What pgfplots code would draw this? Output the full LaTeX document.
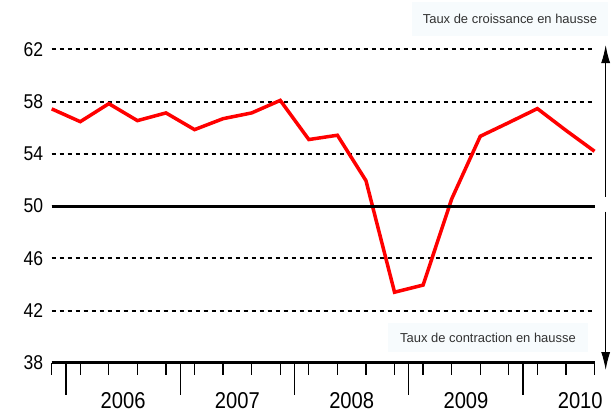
\documentclass[border=0pt]{standalone}
\usepackage{pgfplots}
\pgfplotsset{compat=1.18}
\usetikzlibrary{arrows.meta}
\usepackage{fontspec}
\setmainfont{Liberation Sans}
\newfontfamily\narrow[FakeStretch=0.88]{Liberation Sans}
\definecolor{boxfill}{RGB}{247,251,253}
\definecolor{notegray}{RGB}{50,50,50}

\pgfplotstableread{
x y
0 57.45
1 56.47
2 57.85
3 56.55
4 57.14
5 55.86
6 56.70
7 57.14
8 58.10
9 55.10
10 55.43
11 51.95
12 43.40
13 43.95
14 50.55
15 55.35
16 56.40
17 57.47
18 55.80
19 54.20
}\pmi

\begin{document}
\begin{tikzpicture}
\path[use as bounding box] (-51.7bp,-53.3bp) rectangle (560.3bp,362.7bp);
\begin{axis}[
  x=28.57bp, y=13.05bp,
  xmin=0, xmax=19, ymin=38, ymax=62,
  clip=false,
  separate axis lines,
  axis x line*=bottom, axis y line*=left,
  x axis line style={line width=3.5bp},
  y axis line style={draw=none},
  ytick={38,42,...,62},
  ytick style={draw=none},
  ymajorgrids,
  major grid style={black, line width=2bp, dash pattern=on 4bp off 4bp},
  xtick={2.5,6.5,10.5,14.5,18.5},
  xticklabels={2006,2007,2008,2009,2010},
  minor xtick={0,...,19},
  extra x ticks={0.5,4.5,8.5,12.5,16.5},
  extra x tick labels={},
  extra x tick style={major tick length=32bp, grid=none},
  xtick align=outside,
  major tick length=0pt,
  minor tick length=12bp,
  x tick style={black, line width=1.3bp},
  /pgf/number format/assume math mode=true,
  yticklabel style={font=\narrow\fontsize{20}{20}\selectfont, xshift=-5bp},
  xticklabel style={font=\narrow\fontsize{23}{23}\selectfont, anchor=north, inner sep=0pt, yshift=-30bp},
]
\addplot[red, line width=3.5bp, line join=miter] table[x=x, y=y] {\pmi};
\draw[black, line width=3bp] (axis cs:0,50) -- (axis cs:19,50);
\draw[line width=1bp, -{Latex[length=18bp, width=9bp]}] (axis cs:19.39,50.72) -- (axis cs:19.39,62.34);
\draw[line width=1bp, -{Latex[length=18bp, width=9bp]}] (axis cs:19.39,49.57) -- (axis cs:19.39,37.44);
\node[fill=boxfill, text=notegray, minimum width=196bp, minimum height=34bp, inner sep=0pt, font=\fontsize{13}{13}\selectfont] at (axis cs:16.04,64.34) {Taux de croissance en hausse};
\node[fill=boxfill, text=notegray, minimum width=200bp, minimum height=29bp, inner sep=0pt, font=\fontsize{13}{13}\selectfont] at (axis cs:15.27,39.93) {Taux de contraction en hausse};
\end{axis}
\end{tikzpicture}
\end{document}
